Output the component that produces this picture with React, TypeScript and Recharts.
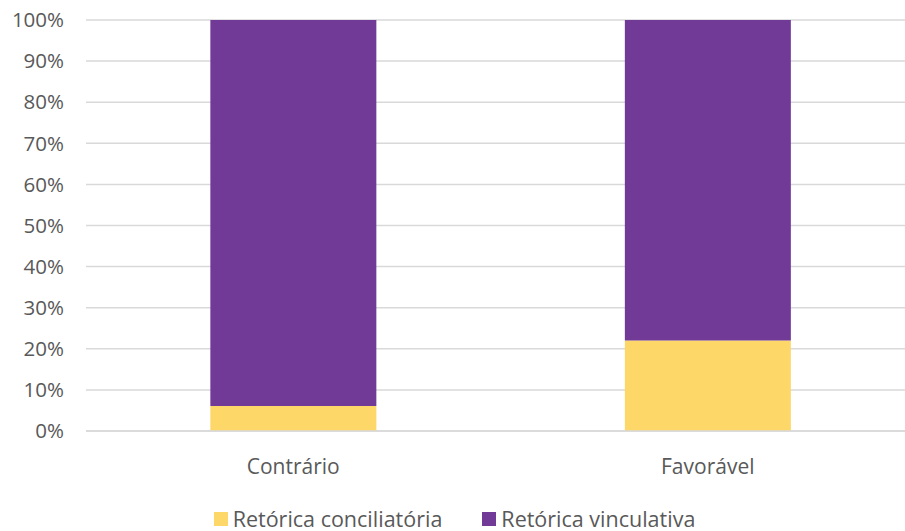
import React from 'react';
import { BarChart, Bar, XAxis, YAxis, CartesianGrid, Legend } from 'recharts';

const categories = ['Contrário', 'Favorável'];
const conciliatoria = [0.061, 0.22];
const vinculativa = [0.939, 0.78];
const yTicks = [0, 0.1, 0.2, 0.3, 0.4, 0.5, 0.6, 0.7, 0.8, 0.9, 1];

const data = categories.map((name, i) => ({
  name,
  conciliatoria: conciliatoria[i],
  vinculativa: vinculativa[i],
}));

const font = "'Open Sans', sans-serif";

const LegendContent = (props: any) => {
  const items = props.payload || [];
  return (
    <div style={{ display: 'flex', justifyContent: 'center', alignItems: 'center', height: 40, paddingTop: 16, paddingRight: 6, boxSizing: 'border-box' }}>
      {items.map((item: any, i: number) => (
        <div key={i} style={{ display: 'flex', alignItems: 'center', marginLeft: i === 0 ? 0 : 40 }}>
          <span style={{ width: 14, height: 14, background: item.color, display: 'inline-block', marginRight: 5 }} />
          <span style={{ color: '#595959', fontSize: 21.5, fontFamily: font, lineHeight: '22px', whiteSpace: 'nowrap' }}>{item.value}</span>
        </div>
      ))}
    </div>
  );
};

const App = () => (
  <div style={{ position: 'absolute', left: 0, top: 0, width: 905, height: 531, overflow: 'hidden', fontFamily: font }}>
    <BarChart
      width={915}
      height={531}
      data={data}
      margin={{ top: 20, right: 0, left: 0, bottom: 0 }}
      barCategoryGap="30%"
    >
      <CartesianGrid horizontal vertical={false} stroke="#d9d9d9" strokeWidth={1.5} />
      <XAxis
        dataKey="name"
        axisLine={{ stroke: '#d9d9d9', strokeWidth: 1.5 }}
        tickLine={false}
        height={60}
        tick={{ fill: '#595959', fontSize: 21, fontFamily: font }}
        tickMargin={22}
      />
      <YAxis
        type="number"
        domain={[0, 1]}
        ticks={yTicks}
        width={86}
        axisLine={false}
        tickLine={false}
        tickSize={0}
        tickMargin={22}
        tickFormatter={(v: number) => `${Math.round(v * 100)}%`}
        tick={{ fill: '#595959', fontSize: 20.5, fontFamily: font }}
      />
      <Legend verticalAlign="bottom" height={40} content={<LegendContent />} />
      <Bar dataKey="conciliatoria" name="Retórica conciliatória" stackId="a" fill="#FDD868" isAnimationActive={false} />
      <Bar dataKey="vinculativa" name="Retórica vinculativa" stackId="a" fill="#703A96" isAnimationActive={false} />
    </BarChart>
  </div>
);

export default App;
